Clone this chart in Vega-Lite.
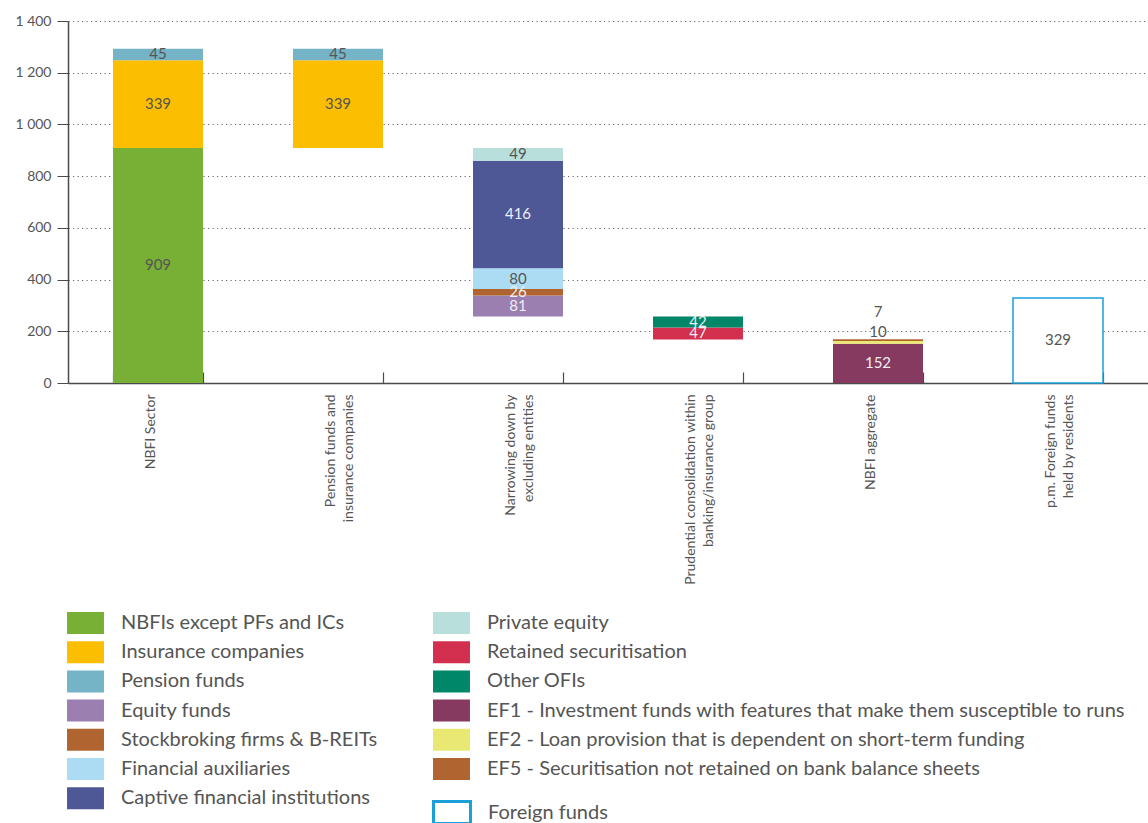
{
  "$schema": "https://vega.github.io/schema/vega-lite/v6.json",
  "width": 1080,
  "height": 362,
  "autosize": {"type": "none"},
  "padding": {"left": 68, "top": 21, "right": 0, "bottom": 440},
  "background": "white",
  "config": {
    "view": {"stroke": null},
    "font": "Lato",
    "axis": {"labelFont": "Lato", "labelColor": "#555555", "labelFontSize": 14}
  },
  "data": {
    "values": [
      {"category": "NBFI Sector", "series": "NBFIs except PFs and ICs", "lo": 0, "hi": 909, "value": 909},
      {"category": "NBFI Sector", "series": "Insurance companies", "lo": 909, "hi": 1248, "value": 339},
      {"category": "NBFI Sector", "series": "Pension funds", "lo": 1248, "hi": 1293, "value": 45},
      {"category": "Pension funds and|insurance companies", "series": "Insurance companies", "lo": 909, "hi": 1248, "value": 339},
      {"category": "Pension funds and|insurance companies", "series": "Pension funds", "lo": 1248, "hi": 1293, "value": 45},
      {"category": "Narrowing down by|excluding entities", "series": "Equity funds", "lo": 257, "hi": 338, "value": 81},
      {"category": "Narrowing down by|excluding entities", "series": "Stockbroking firms & B-REITs", "lo": 338, "hi": 364, "value": 26},
      {"category": "Narrowing down by|excluding entities", "series": "Financial auxiliaries", "lo": 364, "hi": 444, "value": 80},
      {"category": "Narrowing down by|excluding entities", "series": "Captive financial institutions", "lo": 444, "hi": 860, "value": 416},
      {"category": "Narrowing down by|excluding entities", "series": "Private equity", "lo": 860, "hi": 909, "value": 49},
      {"category": "Prudential consolidation within|banking/insurance group", "series": "Retained securitisation", "lo": 168, "hi": 215, "value": 47},
      {"category": "Prudential consolidation within|banking/insurance group", "series": "Other OFIs", "lo": 215, "hi": 257, "value": 42},
      {"category": "NBFI aggregate", "series": "EF1 - Investment funds with features that make them susceptible to runs", "lo": 0, "hi": 152, "value": 152},
      {"category": "NBFI aggregate", "series": "EF2 - Loan provision that is dependent on short-term funding", "lo": 152, "hi": 162, "value": 10},
      {"category": "NBFI aggregate", "series": "EF5 - Securitisation not retained on bank balance sheets", "lo": 162, "hi": 169, "value": 7},
      {"category": "p.m. Foreign funds|held by residents", "series": "Foreign funds", "lo": 0, "hi": 329, "value": 329}
    ]
  },
  "transform": [{"calculate": "(datum.lo + datum.hi) / 2", "as": "mid"}],
  "encoding": {
    "x": {
      "field": "category",
      "type": "nominal",
      "sort": null,
      "scale": {"paddingInner": 0.5, "paddingOuter": 0.25},
      "axis": {
        "title": null,
        "labelAngle": -90,
        "labelAlign": "right",
        "labelBaseline": "middle",
        "labelPadding": 22,
        "labelLimit": 400,
        "labelExpr": "split(datum.label, '|')",
        "labelLineHeight": 18,
        "labelOffset": -8,
        "domainColor": "#4a4a4a",
        "domainWidth": 1.5,
        "tickColor": "#4a4a4a",
        "tickSize": -11,
        "tickWidth": 1.2,
        "tickBand": "extent",
        "grid": false
      }
    }
  },
  "layer": [
    {
      "transform": [{"filter": "datum.series !== 'Foreign funds'"}],
      "mark": {"type": "bar"},
      "encoding": {
        "y": {
          "field": "lo",
          "type": "quantitative",
          "scale": {"domain": [0, 1400], "nice": false},
          "axis": {
            "title": null,
            "values": [0, 200, 400, 600, 800, 1000, 1200, 1400],
            "labelExpr": "replace(format(datum.value, ','), ',', ' ')",
            "labelPadding": 6,
            "domainColor": "#4a4a4a",
            "domainWidth": 1.5,
            "tickColor": "#4a4a4a",
            "tickSize": 11,
            "grid": true,
            "gridColor": "#666666",
            "gridDash": [1.2, 3.3],
            "gridWidth": 1
          }
        },
        "y2": {"field": "hi"},
        "color": {
          "field": "series",
          "type": "nominal",
          "scale": {
            "domain": [
              "NBFIs except PFs and ICs",
              "Insurance companies",
              "Pension funds",
              "Equity funds",
              "Stockbroking firms & B-REITs",
              "Financial auxiliaries",
              "Captive financial institutions",
              "Private equity",
              "Retained securitisation",
              "Other OFIs",
              "EF1 - Investment funds with features that make them susceptible to runs",
              "EF2 - Loan provision that is dependent on short-term funding",
              "EF5 - Securitisation not retained on bank balance sheets"
            ],
            "range": [
              "#78b035",
              "#fbbe00",
              "#75b3c6",
              "#9b7fb0",
              "#b06430",
              "#acdcf4",
              "#4f5896",
              "#b8dfdb",
              "#d3304f",
              "#00876a",
              "#873a60",
              "#e8e872",
              "#b06430"
            ]
          },
          "legend": {
            "title": null,
            "orient": "none",
            "legendX": 5.5,
            "legendY": 590,
            "columns": 2,
            "columnPadding": 55,
            "rowPadding": 6.2,
            "padding": 0,
            "symbolType": "M-1.68,-1H1.68V1H-1.68Z",
            "symbolSize": 484,
            "symbolOpacity": 1,
            "labelFont": "Lato",
            "labelFontSize": 20,
            "labelColor": "#555555",
            "labelOffset": 23.5,
            "labelLimit": 900
          }
        }
      }
    },
    {
      "transform": [{"filter": "datum.series === 'Foreign funds'"}],
      "mark": {"type": "bar", "fill": "#ffffff", "strokeWidth": 1.5},
      "encoding": {
        "y": {"field": "lo", "type": "quantitative"},
        "y2": {"field": "hi"},
        "stroke": {
          "field": "series",
          "type": "nominal",
          "scale": {"domain": ["Foreign funds"], "range": ["#1a9fd9"]},
          "legend": {
            "title": null,
            "orient": "none",
            "legendX": 371.5,
            "legendY": 779,
            "padding": 0,
            "symbolType": "M-1.68,-1H1.68V1H-1.68Z",
            "symbolSize": 484,
            "symbolFillColor": "#ffffff",
            "symbolStrokeWidth": 3,
            "symbolOpacity": 1,
            "labelFont": "Lato",
            "labelFontSize": 20,
            "labelColor": "#555555",
            "labelOffset": 23.5,
            "labelLimit": 900
          }
        }
      }
    },
    {
      "transform": [{"filter": "datum.value >= 20"}],
      "mark": {"type": "text", "font": "Lato", "fontSize": 15, "baseline": "middle"},
      "encoding": {
        "y": {"field": "mid", "type": "quantitative"},
        "text": {"field": "value", "type": "quantitative"},
        "color": {
          "condition": {
            "test": "indexof(['Captive financial institutions','Equity funds','Stockbroking firms & B-REITs','Other OFIs','Retained securitisation','EF1 - Investment funds with features that make them susceptible to runs'], datum.series) >= 0",
            "value": "#eeeef4"
          },
          "value": "#555555"
        }
      }
    },
    {
      "transform": [{"filter": "datum.value === 10"}],
      "mark": {"type": "text", "font": "Lato", "fontSize": 15, "baseline": "middle", "dy": -9.5, "color": "#555555"},
      "encoding": {
        "y": {"field": "hi", "type": "quantitative"},
        "text": {"field": "value", "type": "quantitative"}
      }
    },
    {
      "transform": [{"filter": "datum.value === 7"}],
      "mark": {"type": "text", "font": "Lato", "fontSize": 15, "baseline": "middle", "dy": -27, "color": "#555555"},
      "encoding": {
        "y": {"field": "hi", "type": "quantitative"},
        "text": {"field": "value", "type": "quantitative"}
      }
    }
  ]
}
